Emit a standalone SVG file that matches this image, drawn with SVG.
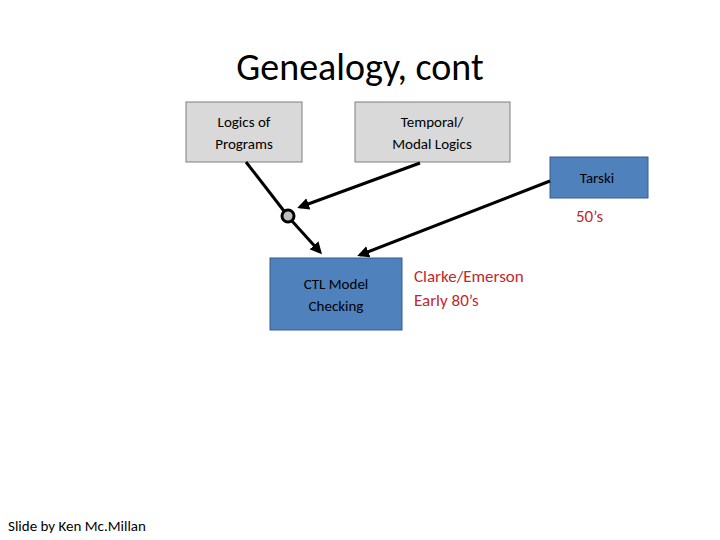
<svg xmlns="http://www.w3.org/2000/svg" width="720" height="540" viewBox="0 0 720 540">
<style>
text{font-family:Calibri,"Liberation Sans",sans-serif}
.g{fill:#d9d9d9;stroke:#7f7f7f;stroke-width:1}
.b{fill:#4f81bd;stroke:#385d8a;stroke-width:1}
.l{font-size:15px;fill:#000;text-anchor:middle}
.r{font-size:17px;fill:#c0282d}
.c{stroke:#000;stroke-width:3;fill:none}
</style>
<defs><marker id="a" markerWidth="4" markerHeight="4" refX="3" refY="2" orient="auto"><path d="M0,0L4,2L0,4z" fill="#000"/></marker></defs>
<rect width="720" height="540" fill="#fff"/>
<text x="360" y="80" font-size="38" text-anchor="middle">Genealogy, cont</text>
<g id="logics"><rect class="g" x="186" y="102" width="116" height="60"/><text class="l" x="244" y="127">Logics of</text><text class="l" x="244" y="149">Programs</text></g>
<g id="temporal"><rect class="g" x="355" y="102" width="155" height="60"/><text class="l" x="432" y="127">Temporal/</text><text class="l" x="432" y="149">Modal Logics</text></g>
<g id="tarski"><rect class="b" x="550" y="157" width="98" height="41"/><text class="l" x="597" y="183">Tarski</text></g>
<g id="ctl"><rect class="b" x="270" y="258" width="132" height="72"/><text class="l" x="336" y="289">CTL Model</text><text class="l" x="336" y="311">Checking</text></g>
<g id="junction"><circle cx="288" cy="216" r="6" fill="#bfbfbf" stroke="#000" stroke-width="3"/></g>
<g id="connectors">
<line class="c" x1="246" y1="162" x2="284" y2="211"/>
<line class="c" x1="292" y1="221" x2="320" y2="252" marker-end="url(#a)"/>
<line class="c" x1="420" y1="163" x2="300" y2="207" marker-end="url(#a)"/>
<line class="c" x1="550" y1="181" x2="360" y2="255" marker-end="url(#a)"/>
</g>
<text class="r" x="576" y="222">50’s</text>
<text class="r" x="414" y="282">Clarke/Emerson</text>
<text class="r" x="414" y="306">Early 80’s</text>
<text x="8" y="531" font-size="15">Slide by Ken Mc.Millan</text>
</svg>
